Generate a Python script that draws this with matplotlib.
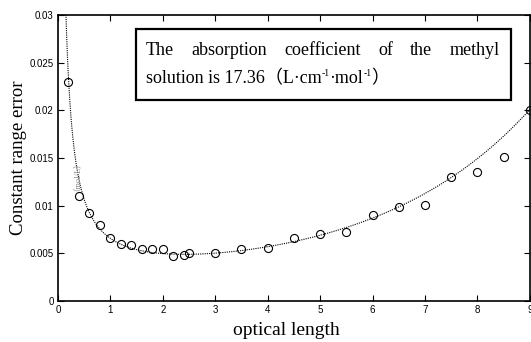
import numpy as np
import matplotlib
matplotlib.use("Agg")
import matplotlib.pyplot as plt
from matplotlib.patches import Rectangle
from matplotlib.transforms import offset_copy

# measured points (optical length, constant range error)
lengths = [0.2, 0.4, 0.6, 0.8, 1.0, 1.2, 1.4, 1.6, 1.8, 2.0, 2.2, 2.4, 2.5,
           3.0, 3.5, 4.0, 4.5, 5.0, 5.5, 6.0, 6.5, 7.0, 7.5, 8.0, 8.5, 9.0]
errors = [0.0230, 0.0110, 0.0092, 0.0080, 0.0066, 0.0060, 0.0059, 0.0055,
          0.0055, 0.0054, 0.0047, 0.0048, 0.0050, 0.0050, 0.0055, 0.0056,
          0.0066, 0.0070, 0.0072, 0.0090, 0.0099, 0.0101, 0.0130, 0.0135,
          0.0151, 0.0200]

# theoretical error curve: 0.434*dT / (T*A), A = k*b
dT = 0.0018
k_abs = 0.18

x_ticks = [0, 1, 2, 3, 4, 5, 6, 7, 8, 9]
y_ticks = [0, 0.005, 0.01, 0.015, 0.02, 0.025, 0.03]
y_labels = ["0", "0.005", "0.01", "0.015", "0.02", "0.025", "0.03"]

serif = ["Liberation Serif", "Noto Sans CJK SC", "DejaVu Serif"]

fig = plt.figure(figsize=(5.31, 3.42), dpi=100)
ax = fig.add_axes([0.109, 0.12, 0.889, 0.836])

b = np.linspace(0.01, 9.2, 600)
A = k_abs * b
curve = 0.434 * dT / (10 ** (-A) * A)
ax.plot(b, curve, color="black", linestyle=(0, (1, 1)), linewidth=0.8)
ax.plot(lengths, errors, linestyle="none", marker="o", markersize=5.8,
        markerfacecolor="none", markeredgecolor="black", markeredgewidth=0.8,
        clip_on=False)

ax.set_xlim(0, 9)
ax.set_ylim(0, 0.03)
ax.set_xticks(x_ticks)
ax.set_yticks(y_ticks)
ax.set_yticklabels(y_labels)
ax.tick_params(direction="in", top=True, right=True, length=4, width=0.8,
               labelsize=7, pad=3)
for lab in ax.get_xticklabels() + ax.get_yticklabels():
    lab.set_family("Liberation Sans")
for sp in ax.spines.values():
    sp.set_linewidth(1.2)

ax.set_xlabel("optical length", family=serif, fontsize=14, labelpad=2)
ax.xaxis.set_label_coords(0.485, -0.075)
ax.set_ylabel("Constant range error", family=serif, fontsize=13.5, labelpad=2)

# faint leftover unit label
ax.text(0.27, 0.0135, "（mol/L）", rotation=90, color="#888888", fontsize=6,
        family=serif, ha="center", va="center")

# annotation box
box = Rectangle((0.165, 0.703), 0.795, 0.248, transform=ax.transAxes,
                facecolor="white", edgecolor="black", linewidth=1.6, zorder=3)
ax.add_patch(box)

fs = 13
line1 = ["The", "absorption", "coefficient", "of", "the", "methyl"]
x0, x1 = 0.186, 0.936
fig.canvas.draw()
r = fig.canvas.get_renderer()
axw = ax.get_window_extent(r).width


def width_of(s, size):
    t = ax.text(0, 0, s, family=serif, fontsize=size)
    w = t.get_window_extent(r).width
    t.remove()
    return w


widths = [width_of(w, fs) / axw for w in line1]
gap = (x1 - x0 - sum(widths)) / (len(line1) - 1)
xp = x0
for w, wd in zip(line1, widths):
    ax.text(xp, 0.862, w, transform=ax.transAxes, family=serif, fontsize=fs,
            ha="left", va="baseline", zorder=4)
    xp += wd + gap

# second line with small raised exponents
pieces = [("solution is 17.36（L·cm", fs, 0), ("-1", 7, 5),
          ("·mol", fs, 0), ("-1", 7, 5), ("）", fs, 0)]
offset = 0.0
for s, size, rise in pieces:
    tr = offset_copy(ax.transAxes, fig=fig, x=offset * 72 / 100, y=rise,
                     units="points")
    ax.text(x0, 0.762, s, transform=tr, family=serif, fontsize=size,
            ha="left", va="baseline", zorder=4)
    offset += width_of(s, size)

fig.savefig("out.png", dpi=100)
